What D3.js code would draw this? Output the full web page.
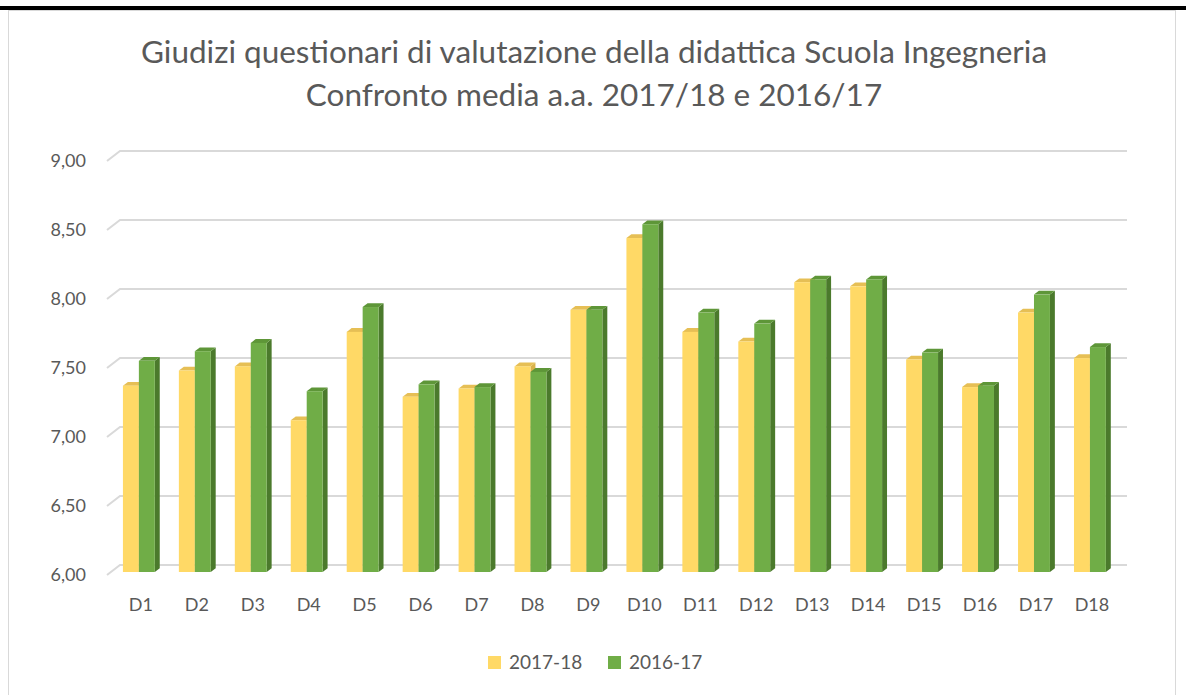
<!DOCTYPE html>
<html>
<head>
<meta charset="utf-8">
<script src="https://cdn.jsdelivr.net/npm/d3@7"></script>
<style>
  html, body { margin: 0; padding: 0; background: #fff; }
  svg { display: block; font-family: Lato, "Open Sans", sans-serif; }
</style>
</head>
<body>
<svg width="1186" height="695"></svg>
<script>
const categories = ["D1","D2","D3","D4","D5","D6","D7","D8","D9","D10","D11","D12","D13","D14","D15","D16","D17","D18"];
const values1718 = [7.35, 7.46, 7.49, 7.10, 7.74, 7.27, 7.33, 7.49, 7.90, 8.42, 7.74, 7.67, 8.10, 8.07, 7.54, 7.34, 7.88, 7.55];
const values1617 = [7.53, 7.60, 7.66, 7.31, 7.92, 7.36, 7.34, 7.45, 7.90, 8.52, 7.88, 7.80, 8.12, 8.12, 7.59, 7.35, 8.01, 7.63];
const seriesNames = ["2017-18", "2016-17"];
const yTicks = [6, 6.5, 7, 7.5, 8, 8.5, 9];
const titleLines = ["Giudizi questionari di valutazione della didattica Scuola Ingegneria",
                    "Confronto media a.a. 2017/18 e 2016/17"];

const colors = [
  { face: "#ffd966", side: "#d9b24a", top: "#e6bf55" },
  { face: "#70ad47", side: "#4b7a2c", top: "#5e9638" }
];

function drawChart() {
  const svg = d3.select("svg");
  svg.selectAll("*").remove();

  // top black rule and chart frame
  svg.append("rect").attr("x", 0).attr("y", 6).attr("width", 1186).attr("height", 4).attr("fill", "#000");
  svg.append("rect").attr("x", 8.5).attr("y", 10.5).attr("width", 1167).attr("height", 700)
     .attr("fill", "none").attr("stroke", "#d9d9d9");

  // 3D depth: back wall offset, front plane offset
  const depth = { dx: -13, dy: 10 };
  const tFront = 0.7, tBack = 0.32;

  const scaleY = d3.scaleLinear().domain([6, 9]).range([565, 151]);
  const scaleX = d3.scaleBand().domain(categories).range([120, 1127])
                   .paddingInner(0.43).paddingOuter(0.215);
  const scaleS = d3.scaleBand().domain(seriesNames).range([0, scaleX.bandwidth()]);

  // gridlines on back wall with floor diagonal
  const grid = svg.append("g").attr("stroke", "#d9d9d9").attr("stroke-width", 2).attr("fill", "none");
  yTicks.forEach(t => {
    const y = scaleY(t);
    grid.append("path").attr("d", `M${120 + depth.dx},${y + depth.dy}L120,${y}L1127,${y}`);
  });

  // y labels
  svg.append("g").selectAll("text").data(yTicks).enter().append("text")
     .attr("x", 86).attr("y", d => scaleY(d) + depth.dy)
     .attr("dy", "0.35em").attr("text-anchor", "end")
     .attr("font-size", 18).attr("fill", "#595959")
     .text(d => d3.format(".2f")(d).replace(".", ","));

  // bars
  const bars = svg.append("g");
  const base = scaleY(6);
  categories.forEach((c, i) => {
    [values1718[i], values1617[i]].forEach((v, s) => {
      const xb = scaleX(c) + scaleS(seriesNames[s]);
      const w = scaleS.bandwidth();
      const fx = xb + depth.dx * tFront, fy = depth.dy * tFront;
      const bx = xb + depth.dx * tBack, by = depth.dy * tBack;
      const top = scaleY(v);
      const col = colors[s];
      // side
      bars.append("path").attr("fill", col.side)
          .attr("d", `M${fx + w},${top + fy}L${bx + w},${top + by}L${bx + w},${base + by}L${fx + w},${base + fy}Z`);
      // top
      bars.append("path").attr("fill", col.top)
          .attr("d", `M${fx},${top + fy}L${bx},${top + by}L${bx + w},${top + by}L${fx + w},${top + fy}Z`);
      // front
      bars.append("rect").attr("fill", col.face)
          .attr("x", fx).attr("y", top + fy).attr("width", w).attr("height", base - top);
    });
  });

  // x labels
  svg.append("g").selectAll("text").data(categories).enter().append("text")
     .attr("x", d => scaleX(d) + scaleX.bandwidth() / 2 + depth.dx * tFront + 2)
     .attr("y", 605).attr("dy", "0.35em").attr("text-anchor", "middle")
     .attr("font-size", 18).attr("fill", "#595959")
     .text(d => d);

  // title, sized so the first line width matches the original
  const title = svg.append("g").selectAll("text").data(titleLines).enter().append("text")
     .attr("x", 594).attr("y", (d, i) => 52 + i * 43).attr("dy", "0.35em")
     .attr("text-anchor", "middle").attr("font-size", 28).attr("fill", "#595959")
     .text(d => d);
  const len = title.node().getComputedTextLength();
  title.attr("font-size", (28 * 906 / len).toFixed(1));

  // legend
  const legend = svg.append("g");
  const legendX = [488, 608];
  seriesNames.forEach((name, i) => {
    legend.append("rect").attr("x", legendX[i]).attr("y", 656).attr("width", 13).attr("height", 13)
          .attr("fill", colors[i].face);
    legend.append("text").attr("x", legendX[i] + 21).attr("y", 662).attr("dy", "0.35em")
          .attr("font-size", 19).attr("fill", "#595959").text(name);
  });
}

drawChart();
</script>
</body>
</html>
